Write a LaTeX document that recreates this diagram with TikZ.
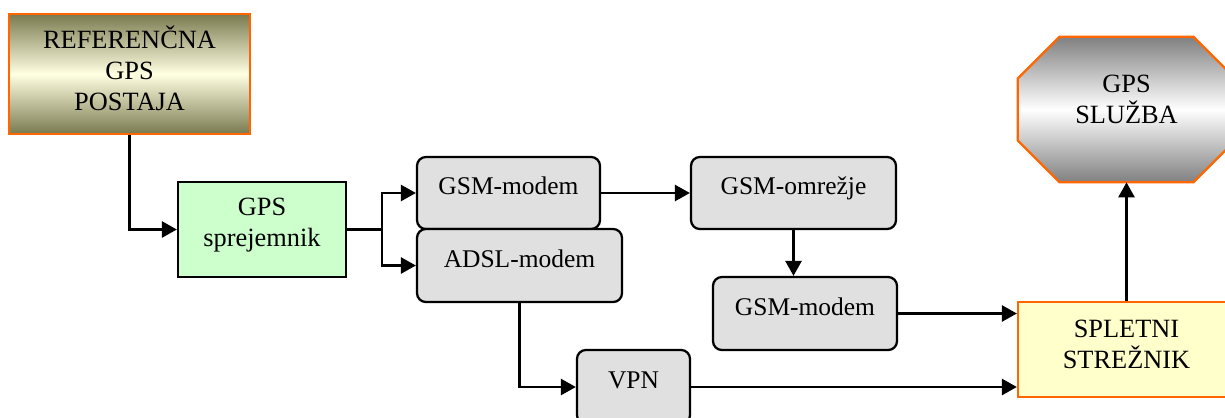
\documentclass[tikz,border=0pt]{standalone}
\usepackage{fontspec}
\setmainfont{Liberation Serif}
\definecolor{edgeorange}{RGB}{255, 102, 0}
\definecolor{oliveshade}{RGB}{122, 122, 80}
\definecolor{cream}{RGB}{255, 255, 226}
\definecolor{mint}{RGB}{204, 255, 204}
\definecolor{boxgray}{RGB}{224, 224, 224}
\definecolor{paleyellow}{RGB}{255, 255, 204}
\definecolor{octgray}{RGB}{128, 128, 128}
\usepackage{tikz}
\usetikzlibrary{arrows.meta, positioning, calc, backgrounds}
\tikzset{
    station/.style={rectangle, minimum width=4.82cm, minimum height=2.4cm, text height=45pt, text depth=3.8pt, align=center, draw=edgeorange, line width=1.3pt, top color=oliveshade, bottom color=oliveshade, middle color=cream, font=\fontsize{15}{17.5}\selectfont},
    receiver/.style={rectangle, minimum width=3.36cm, minimum height=1.9cm, text height=27.5pt, text depth=8.4pt, align=center, draw=black, line width=1.3pt, fill=mint, font=\fontsize{15}{17.5}\selectfont},
    device/.style={rectangle, rounded corners=5pt, minimum height=1.44cm, text height=10pt, text depth=8pt, draw=black, line width=1.3pt, fill=boxgray, font=\fontsize{14.5}{17.5}\selectfont},
    server/.style={rectangle, minimum width=4.34cm, minimum height=1.9cm, text height=27.5pt, text depth=6pt, align=center, draw=edgeorange, line width=1.3pt, fill=paleyellow, font=\fontsize{15}{17.5}\selectfont},
    service/.style={rectangle, inner sep=0pt, minimum width=4.34cm, minimum height=2.9cm, text height=27.5pt, text depth=11.8pt, align=center, font=\fontsize{15}{17.5}\selectfont},
    octagon/.style={draw=edgeorange, line width=1.3pt, top color=octgray, bottom color=octgray, middle color=white},
    arrow/.style={line width=1.5pt, -{Triangle[length=0.3cm, width=0.32cm]}},
    line/.style={line width=1.5pt}
}
\begin{document}
\begin{tikzpicture}[x=0.02cm, y=-0.02cm]
        \useasboundingbox (0, 0) rectangle (1225, 417);
        % Source and receiver
        \node[station] (ref) at (129.5, 74) {REFERENČNA\\GPS\\POSTAJA};
        \node[receiver] (gps) at (262, 229.5) {GPS\\sprejemnik};

        % Modems and network
        \node[device, minimum width=3.66cm] (gsmA) at (508.5, 193) {GSM-modem};
        \node[device, minimum width=4.1cm, minimum height=1.46cm] (adsl) at (519.5, 265.5) {ADSL-modem};
        \node[device, minimum width=4.1cm] (omr) at (793.5, 193) {GSM-omrežje};
        \node[device, minimum width=3.68cm, minimum height=1.46cm] (gsmB) at (805, 313.5) {GSM-modem};
        \node[device, minimum width=2.26cm, minimum height=1.48cm] (vpn) at (633.5, 387) {VPN};

        % Server and service (octagon drawn behind the text)
        \node[server] (web) at (1126.5, 349.5) {SPLETNI\\STREŽNIK};
        \node[service] (svc) at (1126.5, 109.5) {GPS\\SLUŽBA};
        \begin{scope}[on background layer]
            \shadedraw[octagon] ($(svc.north west)+(42,0)$) -- ($(svc.north east)+(-42,0)$)
                -- ($(svc.north east)+(0,42)$) -- ($(svc.south east)+(0,-42)$)
                -- ($(svc.south east)+(-42,0)$) -- ($(svc.south west)+(42,0)$)
                -- ($(svc.south west)+(0,-42)$) -- ($(svc.north west)+(0,42)$) -- cycle;
        \end{scope}

        % Connections
        \coordinate (split) at (382, 229.5);
        \draw[arrow] (ref.south) |- (gps.west);
        \draw[line] (gps.east) -- (split);
        \draw[arrow] (split) |- (gsmA.west);
        \draw[arrow] (split) |- (adsl.west);
        \draw[arrow] (gsmA.east) -- (omr.west);
        \draw[arrow] (omr.south) -- (omr.south |- gsmB.north);
        \draw[arrow] (adsl.south) |- (vpn.west);
        \draw[arrow] (gsmB.east) -- (gsmB.east -| web.west);
        \draw[arrow] (vpn.east) -- (vpn.east -| web.west);
        \draw[arrow] (web.north) -- (svc.south);
    \end{tikzpicture}
\end{document}
